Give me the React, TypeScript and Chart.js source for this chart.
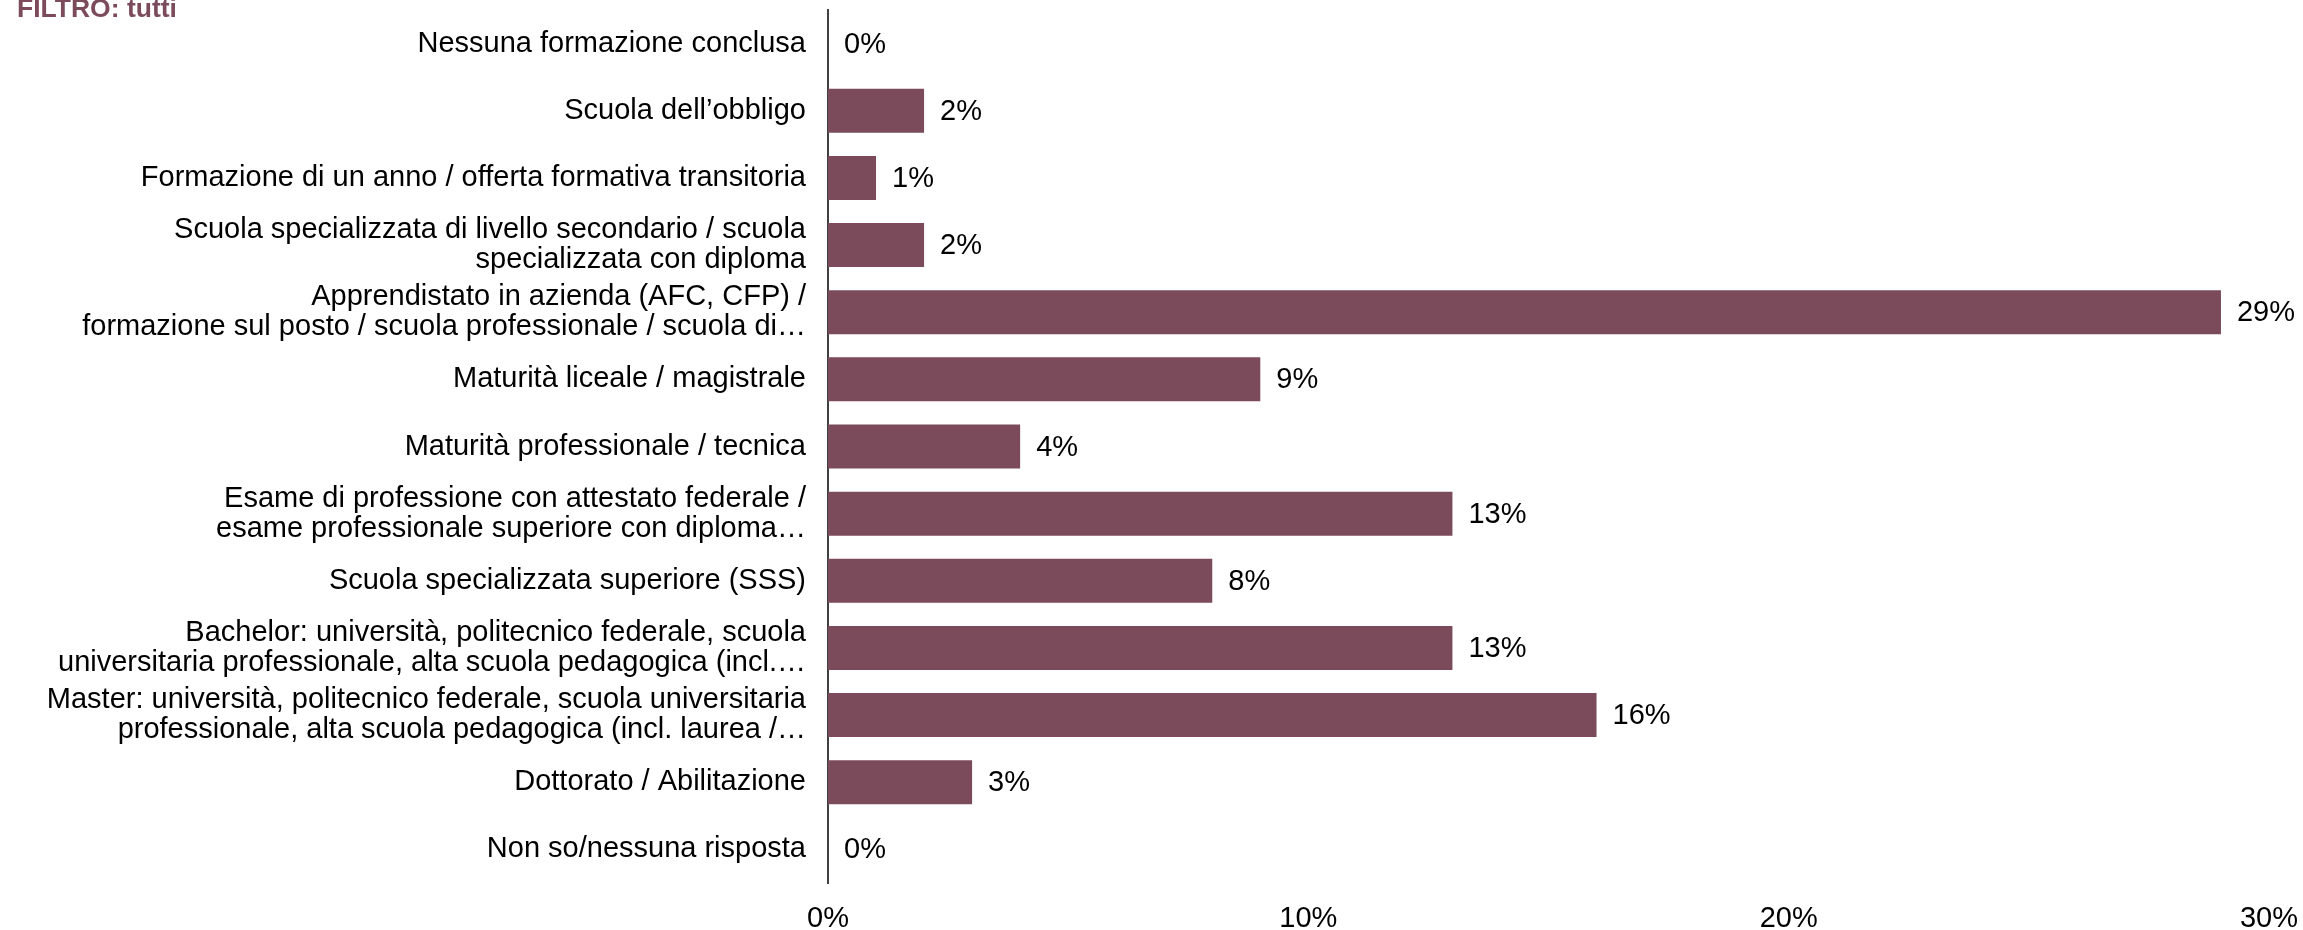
import React, { useEffect, useRef } from "react";
import { Chart, registerables } from "chart.js";

Chart.register(...registerables);

const categories: (string | string[])[] = [
  "Nessuna formazione conclusa",
  "Scuola dell’obbligo",
  "Formazione di un anno / offerta formativa transitoria",
  ["Scuola specializzata di livello secondario / scuola", "specializzata con diploma"],
  ["Apprendistato in azienda (AFC, CFP) /", "formazione sul posto / scuola professionale / scuola di…"],
  "Maturità liceale / magistrale",
  "Maturità professionale / tecnica",
  ["Esame di professione con attestato federale /", "esame professionale superiore con diploma…"],
  "Scuola specializzata superiore (SSS)",
  ["Bachelor: università, politecnico federale, scuola", "universitaria professionale, alta scuola pedagogica (incl.…"],
  ["Master: università, politecnico federale, scuola universitaria", "professionale, alta scuola pedagogica (incl. laurea /…"],
  "Dottorato / Abilitazione",
  "Non so/nessuna risposta",
];

const values: number[] = [0, 2, 1, 2, 29, 9, 4, 13, 8, 13, 16, 3, 0];

const xTicks: number[] = [0, 10, 20, 30];

const filterLabel = "FILTRO: tutti";

const BAR_COLOR = "#7b4b5b";
const FONT = "'Liberation Sans', Arial, sans-serif";
const FONT_SIZE = 29;

const valueLabels = {
  id: "valueLabels",
  afterDatasetsDraw(chart: any) {
    const ctx = chart.ctx;
    const meta = chart.getDatasetMeta(0);
    ctx.save();
    ctx.font = `${FONT_SIZE}px ${FONT}`;
    ctx.fillStyle = "#000";
    ctx.textAlign = "left";
    ctx.textBaseline = "middle";
    meta.data.forEach((bar: any, i: number) => {
      ctx.fillText(`${values[i]}%`, bar.x + 16, bar.y + 1);
    });
    ctx.restore();
  },
};

export default function App() {
  const canvasRef = useRef<HTMLCanvasElement | null>(null);

  useEffect(() => {
    if (!canvasRef.current) return;
    const chart = new Chart(canvasRef.current, {
      type: "bar",
      data: {
        labels: categories,
        datasets: [
          {
            data: values,
            backgroundColor: BAR_COLOR,
            borderWidth: 0,
            barPercentage: 0.655,
            categoryPercentage: 1,
          },
        ],
      },
      options: {
        indexAxis: "y",
        animation: false,
        responsive: true,
        maintainAspectRatio: false,
        layout: { padding: { top: 10, right: 34, left: 0, bottom: 0 } },
        plugins: {
          legend: { display: false },
          tooltip: { enabled: false },
          title: { display: false },
        },
        scales: {
          x: {
            min: 0,
            max: 30,
            afterBuildTicks: (scale: any) => {
              scale.ticks = xTicks.map((v) => ({ value: v }));
            },
            afterFit: (scale: any) => {
              scale.height = 47;
              scale.paddingLeft = 0;
              scale.paddingRight = 0;
            },
            grid: { display: false, drawTicks: false },
            border: { display: false },
            ticks: {
              padding: 19,
              color: "#000",
              font: { family: FONT, size: FONT_SIZE },
              maxRotation: 0,
              callback: (v: any) => `${v}%`,
            },
          },
          y: {
            afterFit: (scale: any) => {
              scale.width = 828;
              scale.paddingTop = 0;
              scale.paddingBottom = 0;
            },
            grid: { display: false, drawTicks: false },
            border: { display: true, color: "#404040", width: 2 },
            ticks: {
              padding: 22,
              color: "#000",
              autoSkip: false,
              font: { family: FONT, size: FONT_SIZE, lineHeight: 1.03 },
            },
          },
        },
      },
      plugins: [valueLabels],
    });
    return () => chart.destroy();
  }, []);

  return (
    <div style={{ position: "absolute", left: 0, top: 0, width: 2303, height: 930, background: "#fff" }}>
      <div
        style={{
          position: "absolute",
          left: 17,
          top: -7,
          fontFamily: FONT,
          fontWeight: "bold",
          fontSize: 26.5,
          color: BAR_COLOR,
          lineHeight: "30px",
          whiteSpace: "nowrap",
        }}
      >
        {filterLabel}
      </div>
      <canvas ref={canvasRef} />
    </div>
  );
}
